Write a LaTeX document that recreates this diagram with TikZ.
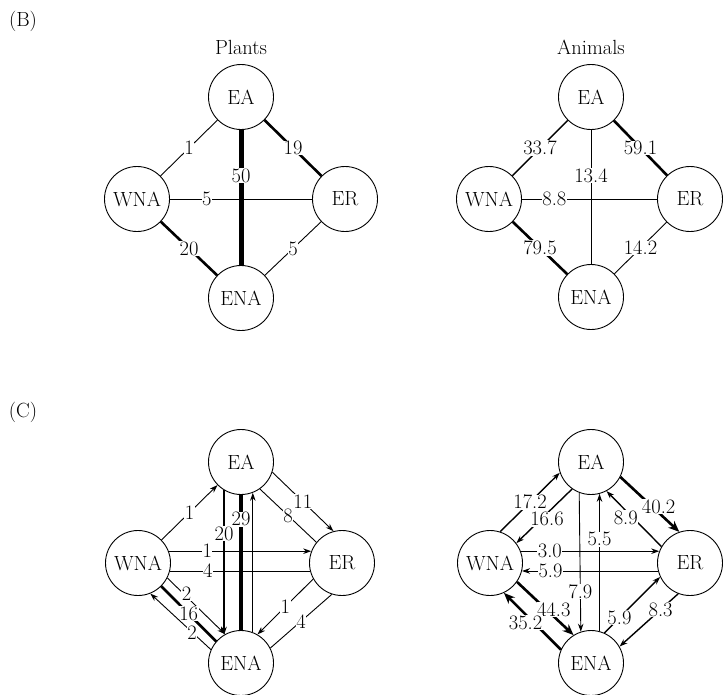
\documentclass[tikz,border=0pt]{standalone}
\usepackage{fontspec}
\usepackage{tikz}
\usetikzlibrary{arrows.meta}
\tikzset{
  region/.style={draw,circle,line width=0.9pt,minimum size=65pt,inner sep=0pt},
  lbl/.style={fill=white,inner sep=0.5pt},
  w1/.style={line width=0.9pt},
  w2/.style={line width=1.4pt},
  w3/.style={line width=2.6pt},
  w4/.style={line width=4pt},
  w5/.style={line width=5pt},
  arr/.style={-{Stealth[length=8pt,width=5.5pt]}},
  bigarr/.style={-{Stealth[length=11pt,width=9pt]}}
}

\begin{document}
\begin{tikzpicture}[x=1pt,y=-1pt,font=\fontsize{20.5}{24}\selectfont]
\useasboundingbox (0,0) rectangle (728,694);

% panel B, plants
\node (labB) at (23,21) {(B)};
\node (bpT) at (241,47) {Plants};
\node[region] (bpEA) at (241,97) {EA};
\node[region] (bpWNA) at (137,199) {WNA};
\node[region] (bpER) at (345,199) {ER};
\node[region] (bpENA) at (241,298) {ENA};

\draw[w1] (bpWNA) -- node[lbl,pos=0.26] {5} (bpER);
\draw[w1] (bpEA) -- node[lbl] {1} (bpWNA);
\draw[w3] (bpEA) -- node[lbl] {19} (bpER);
\draw[w5] (bpEA) -- node[lbl,pos=0.34] {50} (bpENA);
\draw[w3] (bpWNA) -- node[lbl] {20} (bpENA);
\draw[w1] (bpER) -- node[lbl] {5} (bpENA);

% panel B, animals
\node (baT) at (591,47) {Animals};
\node[region] (baEA) at (591,97) {EA};
\node[region] (baWNA) at (489,199) {WNA};
\node[region] (baER) at (690,199) {ER};
\node[region] (baENA) at (591,297) {ENA};

\draw[w1] (baWNA) -- node[lbl,pos=0.24] {8.8} (baER);
\draw[w1] (baEA) -- node[lbl,pos=0.34] {13.4} (baENA);
\draw[w2] (baEA) -- node[lbl] {33.7} (baWNA);
\draw[w3] (baEA) -- node[lbl] {59.1} (baER);
\draw[w3] (baWNA) -- node[lbl] {79.5} (baENA);
\draw[w1] (baER) -- node[lbl] {14.2} (baENA);

% panel C, plants
\node (labC) at (23,412) {(C)};
\node[region] (cpEA) at (241,462) {EA};
\node[region] (cpWNA) at (138,563) {WNA};
\node[region] (cpER) at (342,563) {ER};
\node[region] (cpENA) at (241,663) {ENA};

\draw[w1,arr] (cpWNA.21) -- node[lbl,pos=0.27] {1} (cpER.159);
\draw[w1] (cpWNA.-14) -- node[lbl,pos=0.27] {4} (cpER.-166);
\draw[w1,arr] (cpWNA) -- node[lbl] {1} (cpEA);
\draw[w1,arr] (cpEA.-18) -- node[lbl] {11} (cpER.105);
\draw[w1] (cpER.141) -- node[lbl] {8} (cpEA.-55);
\draw[w2,arr] (cpEA.-121) -- node[lbl,pos=0.3] {20} (cpENA.121);
\draw[w4] (cpEA.south) -- node[lbl,pos=0.18] {29} (cpENA.north);
\draw[w1,arr] (cpENA.69) -- (cpEA.-69);
\draw[w1,arr] (cpWNA.-27) -- node[lbl,pos=0.28,xshift=3pt] {2} (cpENA.119);
\draw[w3] (cpWNA.-45) -- node[lbl,pos=0.5] {16} (cpENA.139);
\draw[w1,arr] (cpENA.156) -- node[lbl,pos=0.31] {2} (cpWNA.-68);
\draw[w1,arr] (cpER.-151) -- node[lbl] {1} (cpENA.60);
\draw[w1] (cpER.-108) -- node[lbl] {4} (cpENA.27);

% panel C, animals
\node[region] (caEA) at (591,462) {EA};
\node[region] (caWNA) at (490,563) {WNA};
\node[region] (caER) at (690,563) {ER};
\node[region] (caENA) at (591,663) {ENA};

\draw[w1,arr] (caWNA.21) -- node[lbl,pos=0.21] {3.0} (caER.159);
\draw[w1,arr] (caER.-166) -- node[lbl,pos=0.79] {5.9} (caWNA.-14);
\draw[w1,arr] (caEA.-111) -- node[lbl,pos=0.71] {7.9} (caENA.108);
\draw[w1,arr] (caENA.75) -- node[lbl,pos=0.67] {5.5} (caEA.-75);
\draw[w2,arr] (caWNA.72) -- node[lbl] {17.2} (caEA.-161);
\draw[w2,arr] (caEA.-125) -- node[lbl,pos=0.45,yshift=-6pt] {16.6} (caWNA.37);
\draw[w3,bigarr] (caEA.-27) -- node[lbl,pos=0.65,yshift=6pt] {40.2} (caER.109);
\draw[w2,arr] (caER.150) -- node[lbl,pos=0.65,yshift=-7pt] {8.9} (caEA.-62);
\draw[w3,bigarr] (caWNA.-35) -- node[lbl,pos=0.65,yshift=7pt] {44.3} (caENA.122);
\draw[w3,bigarr] (caENA.156) -- node[lbl,pos=0.62,yshift=-8pt] {35.2} (caWNA.-65);
\draw[w2,arr] (caENA.66) -- node[lbl,pos=0.27] {5.9} (caER.-155);
\draw[w2,arr] (caER.-111) -- node[lbl,pos=0.3] {8.3} (caENA.30);
\end{tikzpicture}
\end{document}
